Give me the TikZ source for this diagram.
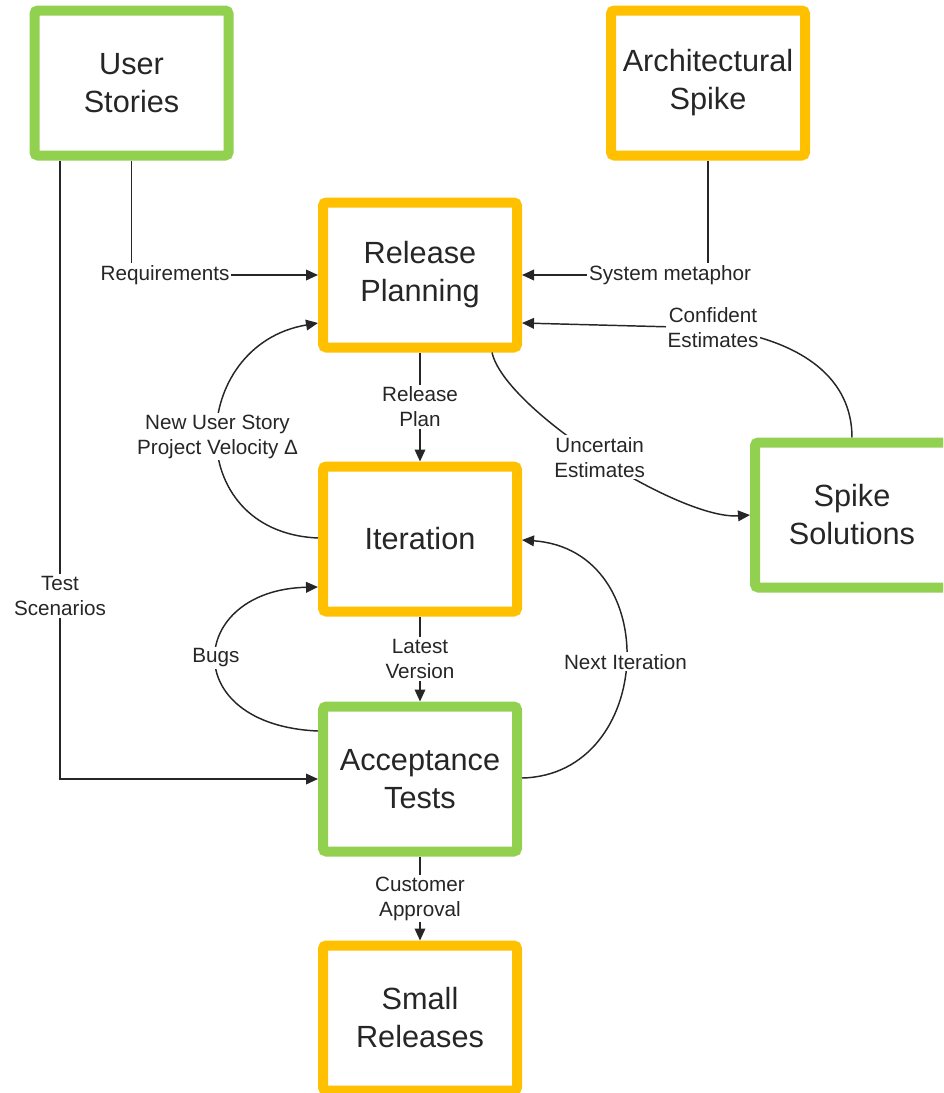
\documentclass[tikz,border=0pt]{standalone}
\usepackage{fontspec}
\setmainfont{Liberation Sans}
\usetikzlibrary{arrows.meta,calc}
\definecolor{xpgreen}{HTML}{92D050}
\definecolor{xpgold}{HTML}{FFC000}
\definecolor{ink}{HTML}{262626}

\begin{document}
\begin{tikzpicture}[x=0.75pt,y=-0.75pt,
  box/.style={draw, line width=7.5pt, rounded corners=2.5pt, fill=white,
    minimum width=145.5pt, minimum height=108.75pt, inner sep=0pt,
    align=center, text=ink, font=\fontsize{23}{28.5}\selectfont},
  gbox/.style={box, draw=xpgreen},
  obox/.style={box, draw=xpgold},
  conn/.style={draw=ink, line width=1.1pt, -{Triangle[length=9pt,width=8pt]}},
  lbl/.style={fill=white, inner sep=1.5pt, align=center, text=ink,
    font=\fontsize{15.5}{18.75}\selectfont}]

\useasboundingbox (0,0) rectangle (943,1093);
\clip (0,0) rectangle (943,1093);

% process boxes
\node[gbox] (US) at (131.5,83)  {User\\Stories};
\node[obox] (AS) at (708,83)    {Architectural\\Spike};
\node[obox] (RP) at (420,275)   {Release\\Planning};
\node[obox] (IT) at (420,539)   {Iteration};
\node[gbox] (AT) at (420,779)   {Acceptance\\Tests};
\node[obox] (SR) at (420,1018)  {Small\\Releases};
\node[gbox] (SS) at (852,515)   {Spike\\Solutions};

% straight flows
\draw[conn] (US.south) |- node[lbl,pos=0.59] {Requirements} (RP.west);
\draw[conn] ($(US.south)+(-71.5,0)$) |- node[lbl,pos=0.352] {Test\\Scenarios} (AT.west);
\draw[conn] (AS.south) |- node[lbl,pos=0.602] {System metaphor} (RP.east);
\draw[conn] (RP.south) -- node[lbl] {Release\\Plan} (IT.north);
\draw[conn] (IT.south) -- node[lbl] {Latest\\Version} (AT.north);
\draw[conn] (AT.south) -- node[lbl] {Customer\\Approval} (SR.north);

% curved flows
\coordinate (ce) at (713,328);
\draw[conn] (SS.north) .. controls (852,380) and (805,340) .. (ce)
  -- ($(RP.east)+(0,48)$);
\node[lbl] at (ce) {Confident\\Estimates};

\draw[conn] ($(RP.south)+(72,0)$) .. controls (505,410) and (680,520) ..
  node[lbl,pos=0.5] {Uncertain\\Estimates} (SS.west);

\draw[conn] ($(IT.west)+(0,-1)$) .. controls (180,532) and (188,345) ..
  node[lbl,pos=0.5] {New User Story\\Project Velocity Δ} ($(RP.west)+(0,48)$);

\draw[conn] ($(AT.west)+(0,-48)$) .. controls (177,725) and (187,590) ..
  node[lbl,pos=0.5] {Bugs} ($(IT.west)+(0,48)$);

\draw[conn] ($(AT.east)+(0,-1)$) .. controls (655,775) and (665,550) ..
  node[lbl,pos=0.5] {Next Iteration} ($(IT.east)+(0,1)$);
\end{tikzpicture}
\end{document}
